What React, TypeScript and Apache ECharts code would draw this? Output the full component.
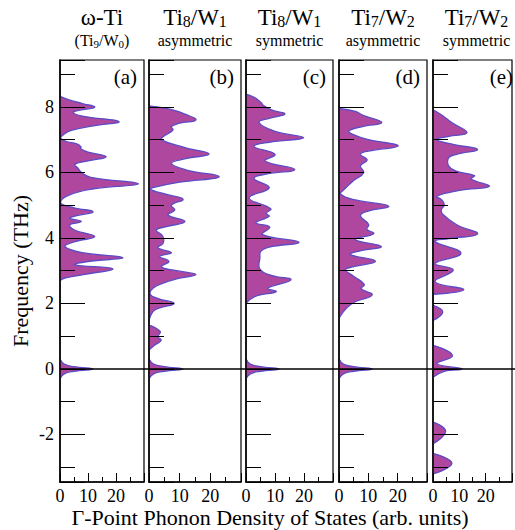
import React, { useEffect, useRef } from 'react';
import * as echarts from 'echarts';

// ---- axis ranges & tick labels ----
const FREQ_MIN = -3.45;
const FREQ_MAX = 9.43;
const DOS_MAX = 30;
const X_TICK_LABELS = [0, 10, 20];
const Y_TICK_LABELS = [-2, 0, 2, 4, 6, 8];

// ---- panel texts ----
const PANEL_TITLE = [
  '{m|ω-Ti}',
  '{m|Ti}{s|8}{m|/W}{s|1}',
  '{m|Ti}{s|8}{m|/W}{s|1}',
  '{m|Ti}{s|7}{m|/W}{s|2}',
  '{m|Ti}{s|7}{m|/W}{s|2}',
];
const PANEL_SUBTITLE = [
  '{m|(Ti}{s|9}{m|/W}{s|0}{m|)}',
  '{m|asymmetric}',
  '{m|symmetric}',
  '{m|asymmetric}',
  '{m|symmetric}',
];
const PANEL_TAG = ['(a)', '(b)', '(c)', '(d)', '(e)'];
const Y_TITLE = 'Frequency (THz)';
const X_TITLE = 'Γ-Point Phonon Density of States (arb. units)';

// ---- DOS data: [dos, frequency] ----
const dosA = [
  [0, 8.32], [3, 8.22], [8, 8.1], [12.4, 7.99], [7, 7.9], [4.7, 7.83], [8, 7.72], [21, 7.55],
  [12, 7.42], [4, 7.28], [1.2, 7.15], [0.2, 7.05], [2, 6.95], [6, 6.87], [7.5, 6.78], [7.4, 6.72],
  [10, 6.62], [16.5, 6.48], [10, 6.35], [5.3, 6.24], [6.5, 6.12], [7.6, 6.0], [11, 5.85], [28, 5.65],
  [12, 5.5], [3, 5.3], [0.2, 5.07], [5, 4.92], [11.8, 4.8], [6, 4.68], [3.5, 4.6], [7.6, 4.5],
  [3.5, 4.4], [5, 4.25], [12.4, 4.04], [5, 3.88], [1.8, 3.73], [8, 3.55], [22.4, 3.4], [10, 3.28],
  [5.3, 3.18], [18.8, 3.06], [10, 2.9], [2, 2.78], [0, 2.7],
  [0, 0.3], [1.5, 0.15], [5, 0.07], [11.8, 0], [5, -0.07], [1.5, -0.15], [0, -0.3],
];
const dosB = [
  [0, 8.03], [6.8, 7.93], [11.7, 7.78], [15.3, 7.6], [10, 7.5], [7.3, 7.4], [7.8, 7.29], [4.6, 7.09],
  [4.0, 6.99], [12, 6.75], [19.6, 6.56], [12, 6.42], [7.3, 6.28], [12, 6.08], [22.9, 5.87], [10, 5.7],
  [2, 5.55], [0.4, 5.48], [6, 5.32], [11.1, 5.18], [7.3, 5.0], [8.4, 4.85], [6.2, 4.7], [11.7, 4.5],
  [6, 4.35], [2.4, 4.24], [4.5, 4.05], [4.6, 3.84], [2.9, 3.7], [7.3, 3.55], [3.5, 3.43], [6.5, 3.28],
  [4.0, 3.12], [9, 3.0], [15.3, 2.88], [9, 2.75], [4.6, 2.62], [1.3, 2.46], [0.4, 2.28], [3, 2.15],
  [8.2, 2.0], [3, 1.85], [1.3, 1.75], [0, 1.5],
  [0, 1.34], [3.7, 1.14], [2.9, 0.99], [4.0, 0.88], [1.9, 0.73], [0, 0.58],
  [0, 0.3], [1.5, 0.15], [5, 0.07], [11.1, 0], [5, -0.07], [1.5, -0.15], [0, -0.3],
];
const dosC = [
  [0, 8.39], [2.8, 8.29], [5.1, 8.14], [6.2, 8.03], [9, 7.9], [13.4, 7.78], [8, 7.65], [4.5, 7.52],
  [10, 7.25], [19.9, 7.06], [8, 6.92], [2.8, 6.79], [10, 6.55], [6.6, 6.35], [16.8, 6.09], [7, 5.95],
  [2.8, 5.81], [8.0, 5.53], [1.1, 5.22], [8.5, 4.89], [7.0, 4.75], [8.0, 4.66], [3.4, 4.46], [8.2, 4.33],
  [5.7, 4.1], [18.2, 3.87], [8, 3.72], [5.1, 3.59], [4.8, 3.4], [4.8, 3.05], [9, 2.85], [15.5, 2.72],
  [7.5, 2.46], [10.4, 2.36], [3.0, 2.21], [0, 2.0],
  [0, 0.3], [1.5, 0.15], [5, 0.07], [11.5, 0], [5, -0.07], [1.5, -0.15], [0, -0.3],
];
const dosD = [
  [0, 7.95], [5.6, 7.86], [8, 7.75], [14.6, 7.52], [8, 7.4], [3.4, 7.27], [4.5, 7.17], [10, 7.0],
  [20.2, 6.81], [10, 6.65], [7.3, 6.55], [9.6, 6.38], [7.3, 6.2], [8.4, 5.99], [5, 5.75], [2, 5.5],
  [0.6, 5.33], [6, 5.15], [16.9, 4.97], [10, 4.82], [7.3, 4.68], [10.1, 4.41], [9.5, 4.26], [11.8, 4.13],
  [5.6, 3.95], [14.4, 3.74], [7, 3.6], [3.9, 3.49], [12.4, 3.29], [5, 3.12], [2.2, 3.03], [5, 2.83],
  [8.6, 2.58], [7.6, 2.45], [11.3, 2.26], [5.5, 2.05], [2.5, 1.85], [0, 1.55],
  [0, 0.3], [1.5, 0.15], [5, 0.07], [11.4, 0], [5, -0.07], [1.5, -0.15], [0, -0.3],
];
const dosE = [
  [0, 7.91], [3.7, 7.73], [7.1, 7.52], [12.9, 7.21], [6, 7.1], [1.4, 7.0], [8, 6.85], [16.9, 6.7],
  [9, 6.55], [6, 6.45], [6, 6.19], [8.8, 6.04], [15.7, 5.9], [14.5, 5.8], [21.5, 5.58], [10, 5.45],
  [1.4, 5.27], [3.2, 5.17], [4.3, 5.01], [3.2, 4.86], [3.7, 4.72], [9, 4.4], [16.9, 4.12], [6, 3.98],
  [0.8, 3.89], [10.6, 3.53], [0.8, 3.22], [7.7, 3.02], [0.8, 2.66], [11.7, 2.42], [0, 2.28],
  [0, 1.94], [3.7, 1.74], [0, 1.48],
  [0, 0.72], [7.4, 0.41], [1.5, 0.16], [11.1, 0], [4, -0.08], [0, -0.25],
  [0, -1.62], [4.8, -1.9], [0, -2.28],
  [0, -2.58], [7.2, -2.88], [0, -3.2],
];
const PANELS = [dosA, dosB, dosC, dosD, dosE];
const ZERO_LINE = [[0, 0], [1, 0]];

// ---- layout & style ----
const FONT = "'Liberation Serif', 'Times New Roman', Times, serif";
const GRID_LEFT = [60, 149, 246, 339, 433];
const GRID_WIDTH = [84, 92, 87, 88, 87];
const GRID_TOP = 60;
const GRID_HEIGHT = 422;
const FILL = '#b0479f';
const EDGE = '#5b4cc4';
const SMOOTH = 0.45;

function splitBands(data: number[][]) {
  const bands: number[][][] = [];
  let cur: number[][] = [];
  data.forEach((p) => {
    cur.push(p);
    if (p[0] === 0 && cur.length > 1) {
      bands.push(cur);
      cur = [];
    }
  });
  if (cur.length > 1) bands.push(cur);
  return bands;
}

function makeRender(data: number[][]) {
  const bands = splitBands(data);
  return (params: any, api: any) => {
    if (params.dataIndex !== 0) return null;
    const children: any[] = [];
    bands.forEach((band) => {
      const pts = band.map((d) => api.coord([d[0], d[1]]));
      const c = [pts[0].slice(), pts[0].slice()];
      children.push({
        type: 'polygon',
        shape: { points: pts, smooth: SMOOTH, smoothConstraint: c },
        style: { fill: FILL, stroke: 'none' },
      });
      children.push({
        type: 'polyline',
        shape: { points: pts, smooth: SMOOTH, smoothConstraint: c },
        style: { fill: 'none', stroke: EDGE, lineWidth: 1.3 },
      });
    });
    return { type: 'group', children };
  };
}

export default function App() {
  const ref = useRef<HTMLDivElement>(null);
  useEffect(() => {
    document.body.style.margin = '0';
    const chart = echarts.init(ref.current!, null, { renderer: 'svg' });
    const grid: any[] = [];
    const xAxis: any[] = [];
    const yAxis: any[] = [];
    const series: any[] = [];
    const graphic: any[] = [];
    const tickStyle = { color: '#000', width: 1 };
    PANELS.forEach((data, i) => {
      grid.push({
        left: GRID_LEFT[i], top: GRID_TOP, width: GRID_WIDTH[i], height: GRID_HEIGHT,
        show: true, borderColor: '#000', borderWidth: 1.2, backgroundColor: 'transparent',
      });
      xAxis.push({
        gridIndex: i, type: 'value', min: 0, max: DOS_MAX, interval: 10, z: 10,
        axisLine: { show: true, onZero: false, lineStyle: { color: '#000', width: 1.5 } },
        axisTick: { show: true, inside: true, length: 9, lineStyle: tickStyle },
        minorTick: { show: true, splitNumber: 2, length: 5, lineStyle: tickStyle },
        splitLine: { show: false },
        axisLabel: {
          show: true, margin: 5, fontSize: 18, color: '#000', fontFamily: FONT,
          formatter: (v: number) => (X_TICK_LABELS.includes(v) ? String(v) : ''),
        },
      });
      yAxis.push({
        gridIndex: i, type: 'value', min: FREQ_MIN, max: FREQ_MAX, minInterval: 2, maxInterval: 2,
        splitNumber: 6, z: 10,
        axisLine: { show: true, onZero: false, lineStyle: { color: '#000', width: 1.5 } },
        axisTick: { show: true, inside: true, length: 25, lineStyle: tickStyle },
        minorTick: { show: true, splitNumber: 2, length: 15, lineStyle: tickStyle },
        splitLine: { show: false },
        axisLabel: {
          show: i === 0, margin: 6, fontSize: 18, color: '#000', fontFamily: FONT,
          formatter: (v: number) => (Y_TICK_LABELS.includes(v) ? String(v) : ''),
        },
      });
      series.push({
        type: 'custom', xAxisIndex: i, yAxisIndex: i, data, renderItem: makeRender(data),
        silent: true, z: 2,
      });
      const cx = GRID_LEFT[i] + GRID_WIDTH[i] / 2;
      graphic.push({
        type: 'text', x: cx, y: 17,
        style: {
          text: PANEL_TITLE[i], align: 'center', verticalAlign: 'middle',
          fontFamily: FONT, fontSize: 23,
          rich: {
            m: { fontFamily: FONT, fontSize: 23, lineHeight: 24, fill: '#000' },
            s: { fontFamily: FONT, fontSize: 16, lineHeight: 12, verticalAlign: 'bottom', fill: '#000' },
          },
        },
      });
      graphic.push({
        type: 'text', x: cx, y: 40,
        style: {
          text: PANEL_SUBTITLE[i], align: 'center', verticalAlign: 'middle',
          fontFamily: FONT, fontSize: 16,
          rich: {
            m: { fontFamily: FONT, fontSize: 16, lineHeight: 18, fill: '#000' },
            s: { fontFamily: FONT, fontSize: 11, lineHeight: 9, verticalAlign: 'bottom', fill: '#000' },
          },
        },
      });
      graphic.push({
        type: 'text', x: GRID_LEFT[i] + GRID_WIDTH[i] - 7, y: 77,
        style: {
          text: PANEL_TAG[i], align: 'right', verticalAlign: 'middle',
          fontFamily: FONT, fontSize: 21, fill: '#000',
        },
      });
    });
    // overlay grid for the zero-frequency line spanning all panels
    grid.push({ left: GRID_LEFT[0], top: GRID_TOP, right: 0, height: GRID_HEIGHT, show: false });
    xAxis.push({ gridIndex: 5, type: 'value', min: 0, max: 1, show: false });
    yAxis.push({ gridIndex: 5, type: 'value', min: FREQ_MIN, max: FREQ_MAX, show: false });
    series.push({
      type: 'line', xAxisIndex: 5, yAxisIndex: 5, data: ZERO_LINE, symbol: 'none', silent: true,
      lineStyle: { color: '#000', width: 1.6 }, z: 20,
    });
    graphic.push({
      type: 'text', x: 20, y: GRID_TOP + GRID_HEIGHT / 2, rotation: Math.PI / 2,
      style: { text: Y_TITLE, align: 'center', verticalAlign: 'middle', fontFamily: FONT, fontSize: 22, fill: '#000' },
    });
    graphic.push({
      type: 'text', x: 270, y: 517,
      style: { text: X_TITLE, align: 'center', verticalAlign: 'middle', fontFamily: FONT, fontSize: 22, fill: '#000' },
    });
    chart.setOption({
      animation: false,
      backgroundColor: '#fff',
      textStyle: { fontFamily: FONT },
      grid, xAxis, yAxis, series, graphic,
    });
    return () => chart.dispose();
  }, []);
  return (
    <div
      ref={ref}
      style={{ position: 'absolute', left: 0, top: 0, width: 515, height: 530 }}
    />
  );
}
